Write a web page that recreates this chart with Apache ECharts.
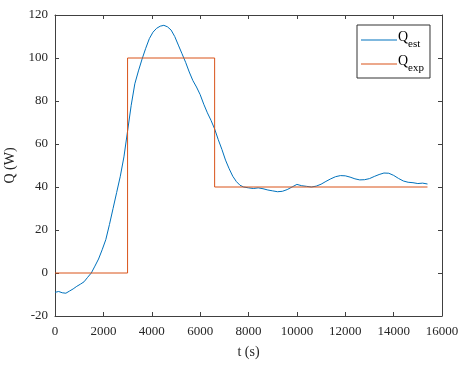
<!DOCTYPE html>
<html>
<head>
<meta charset="utf-8">
<script src="https://cdn.jsdelivr.net/npm/echarts@6/dist/echarts.min.js"></script>
<style>
  html, body { margin: 0; padding: 0; background: #fff; }
  #main { width: 467px; height: 367px; }
</style>
</head>
<body>
<div id="main"></div>
<script>
// time (s) for the estimated heat flow
var timeS = [0, 150, 300, 450, 600, 750, 900, 1050, 1200, 1350, 1500, 1650, 1800, 1950, 2100,
  2250, 2400, 2550, 2700, 2850, 3000, 3150, 3300, 3450, 3600, 3750, 3900, 4050, 4200, 4350,
  4500, 4650, 4800, 4950, 5100, 5250, 5400, 5550, 5700, 5850, 6000, 6150, 6300, 6450, 6600,
  6750, 6900, 7050, 7200, 7350, 7500, 7650, 7800, 8000, 8200, 8400, 8600, 8800, 9000, 9200,
  9400, 9600, 9800, 10000, 10200, 10400, 10600, 10800, 11000, 11200, 11400, 11600, 11800,
  12000, 12200, 12400, 12600, 12800, 13000, 13200, 13400, 13600, 13800, 14000, 14200, 14400,
  14600, 14800, 15000, 15200, 15400];
// Q_est (W)
var qEst = [-9, -8.6, -9.2, -9.4, -8.4, -7.4, -6.2, -5.2, -4.1, -2.0, 0, 3.2, 6.5, 10.8, 15.5,
  22.5, 30, 37.5, 45, 54, 66, 78, 88, 94, 99.5, 104.5, 109, 112, 113.8, 114.8,
  115.2, 114.5, 113, 110, 106, 102, 98, 93.5, 89.5, 86.5, 83, 78.5, 74.5, 71, 67,
  62, 57.5, 52.5, 48.5, 45, 42.5, 40.8, 40, 39.6, 39.3, 39.6, 39.2, 38.6, 38.2, 37.8,
  38, 38.8, 40, 41.2, 40.6, 40.3, 40, 40.4, 41.3, 42.6, 43.8, 44.8, 45.3,
  45.2, 44.6, 43.8, 43.3, 43.4, 43.9, 44.9, 45.8, 46.5, 46.4, 45.4, 44, 42.8,
  42.2, 42.0, 41.6, 41.8, 41.4];
// Q_exp step profile
var expTime = [0, 3000, 3000, 6600, 6600, 15400];
var qExp = [0, 0, 100, 100, 40, 40];

var seriesNames = ['Qest', 'Qexp'];
var subs = { Qest: 'est', Qexp: 'exp' };

var font = '"Times New Roman", "Liberation Serif", serif';
var axisCol = '#404040';
var textCol = '#262626';

function pairs(xs, ys) {
  var out = [];
  for (var i = 0; i < xs.length; i++) out.push([xs[i], ys[i]]);
  return out;
}

var chart = echarts.init(document.getElementById('main'));

function xAx(pos, show) {
  return {
    type: 'value', position: pos, min: 0, max: 16000, interval: 2000,
    name: show ? 't (s)' : '', nameLocation: 'middle', nameGap: 29,
    nameTextStyle: { fontFamily: font, fontSize: 14, color: textCol },
    axisLine: { show: true, onZero: false, lineStyle: { color: axisCol, width: 1 } },
    axisTick: { show: true, inside: true, length: 4, lineStyle: { color: axisCol } },
    axisLabel: { show: show, margin: 9, fontFamily: font, fontSize: 13, color: textCol,
      formatter: function (v) { return String(v); } },
    splitLine: { show: false }
  };
}
function yAx(pos, show) {
  return {
    type: 'value', position: pos, min: -20, max: 120, interval: 20,
    name: show ? 'Q (W)' : '', nameLocation: 'middle', nameGap: 35,
    nameTextStyle: { fontFamily: font, fontSize: 14, color: textCol },
    axisLine: { show: true, onZero: false, lineStyle: { color: axisCol, width: 1 } },
    axisTick: { show: true, inside: true, length: 4, lineStyle: { color: axisCol } },
    axisLabel: { show: show, margin: 7, fontFamily: font, fontSize: 13, color: textCol,
      formatter: function (v) { return String(v); } },
    splitLine: { show: false }
  };
}

chart.setOption({
  backgroundColor: '#fff',
  animation: false,
  grid: { left: 55, right: 25, top: 15, bottom: 51, outerBoundsMode: 'none' },
  xAxis: [xAx('bottom', true), xAx('top', false)],
  yAxis: [yAx('left', true), yAx('right', false)],
  legend: {
    orient: 'vertical', left: 357, top: 25,
    data: seriesNames,
    icon: 'rect',
    backgroundColor: '#fff', borderColor: '#333', borderWidth: 1,
    padding: [5, 6, 4, 4], itemGap: 4, itemWidth: 36, itemHeight: 1.2,
    formatter: function (name) { return '{q|Q}{s|' + subs[name] + '}'; },
    textStyle: {
      padding: [0, 0, 0, -4],
      rich: {
        q: { fontFamily: font, fontSize: 14, color: '#000', lineHeight: 20, verticalAlign: 'top' },
        s: { fontFamily: font, fontSize: 11, color: '#000', lineHeight: 20, verticalAlign: 'bottom', padding: [8, 0, 0, 0] }
      }
    }
  },
  series: [
    {
      name: 'Qest', type: 'line', symbol: 'none', data: pairs(timeS, qEst),
      lineStyle: { color: '#0072BD', width: 1 }, itemStyle: { color: '#0072BD' }
    },
    {
      name: 'Qexp', type: 'line', symbol: 'none', data: pairs(expTime, qExp),
      lineStyle: { color: '#D95319', width: 1 }, itemStyle: { color: '#D95319' }
    }
  ]
});
</script>
</body>
</html>
